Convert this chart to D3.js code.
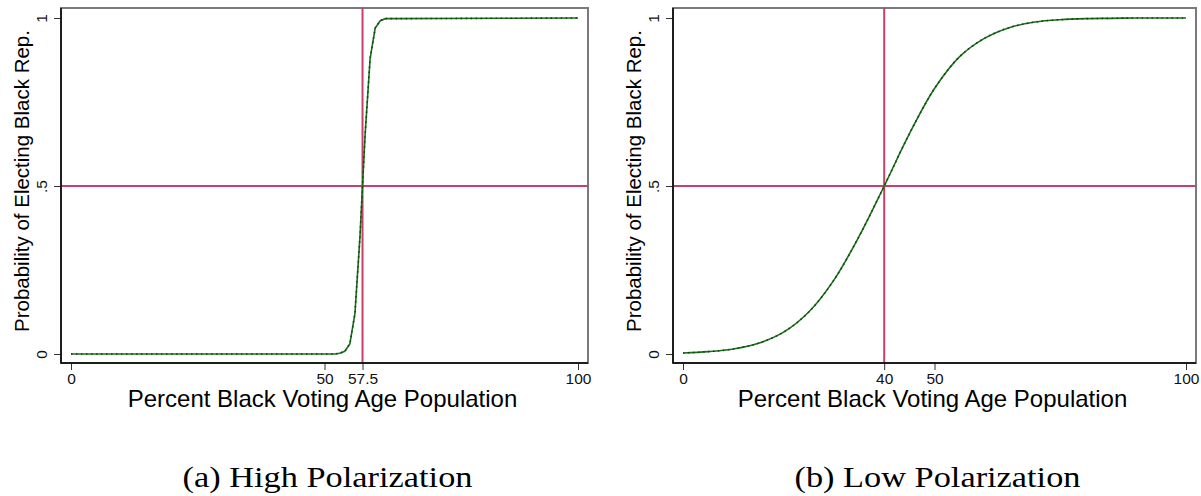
<!DOCTYPE html>
<html>
<head>
<meta charset="utf-8">
<script src="https://cdn.jsdelivr.net/npm/d3@7"></script>
<style>
  body { margin: 0; background: #fff; }
  svg { display: block; }
  .tick text { font-family: "Liberation Sans", Arial, sans-serif; }
</style>
</head>
<body>
<svg id="chart" width="1201" height="496"></svg>
<script>
// data
let highX = [0, 52, 53, 54, 55, 56, 57, 58, 59, 60, 61, 62, 100]
let highP = [0, 0, 0.002, 0.008, 0.03, 0.12, 0.35, 0.65, 0.88, 0.97, 0.992, 0.998, 1]

let lowX = [0, 5, 10, 15, 20, 25, 30, 35, 40, 45, 50, 55, 60, 65, 70, 75, 80, 85, 90, 95, 100]
let lowP = [0.003, 0.007, 0.015, 0.032, 0.065, 0.125, 0.22, 0.35, 0.5, 0.655, 0.79, 0.885, 0.94, 0.972, 0.988, 0.995, 0.998, 0.999, 1, 1, 1]

let highTicks = [0, 50, 57.5, 100]
let lowTicks = [0, 40, 50, 100]
let yTicks = [0, 0.5, 1]
let yTickLabels = ['0', '.5', '1']
let refLines = [57.5, 40]
let captions = ['(a) High Polarization', '(b) Low Polarization']
let xTitle = 'Percent Black Voting Age Population'
let yTitle = 'Probability of Electing Black Rep.'

let svg = d3.select('#chart')

let panels = [
    {xs: highX, ps: highP, ticks: highTicks, ref: refLines[0], caption: captions[0], capLen: 290, left: 61, right: 588, curve: d3.curveLinear},
    {xs: lowX, ps: lowP, ticks: lowTicks, ref: refLines[1], caption: captions[1], capLen: 286, left: 673, right: 1196, curve: d3.curveCatmullRom.alpha(0.5)}
]

let plotTop = 8
let plotBottom = 363
let red = '#c8406a'
let green = '#1c6e1c'

let drawPanel = (p) => {
    let g = svg.append('g')
    let pad = 10
    let x = d3.scaleLinear().domain([0, 100]).range([p.left + pad, p.right - pad])
    let y = d3.scaleLinear().domain([0, 1]).range([plotBottom - 9, plotTop + 10])

    // plot region outline
    g.append('rect')
     .attr('x', p.left).attr('y', plotTop)
     .attr('width', p.right - p.left).attr('height', plotBottom - plotTop)
     .attr('fill', 'none').attr('stroke', '#7a7a7a').attr('stroke-width', 2)

    // reference lines
    g.append('line')
     .attr('x1', p.left).attr('x2', p.right)
     .attr('y1', y(0.5)).attr('y2', y(0.5))
     .attr('stroke', red).attr('stroke-width', 2)
    g.append('line')
     .attr('x1', x(p.ref)).attr('x2', x(p.ref))
     .attr('y1', plotTop).attr('y2', plotBottom)
     .attr('stroke', red).attr('stroke-width', 2)

    // curve
    let pts = p.xs.map((d, i) => [d, p.ps[i]])
    let line = d3.line().x(d => x(d[0])).y(d => y(d[1])).curve(p.curve)
    g.append('path')
     .datum(pts)
     .attr('d', line)
     .attr('fill', 'none').attr('stroke', green).attr('stroke-width', 1.6)
    g.append('path')
     .datum(pts)
     .attr('d', line)
     .attr('fill', 'none').attr('stroke', '#0c4a0c').attr('stroke-width', 1.6)
     .attr('stroke-dasharray', '1.5,3.5')

    // axes
    let xAxis = d3.axisBottom(x)
                  .tickValues(p.ticks)
                  .tickFormat(d => String(d))
                  .tickSize(7).tickPadding(3)
    let ga = g.append('g').attr('transform', 'translate(0,' + plotBottom + ')').call(xAxis)
    ga.select('.domain').remove()
    ga.selectAll('.tick line').attr('stroke', '#333')
    ga.selectAll('.tick text').attr('font-size', 15.5).attr('fill', '#111')

    let yAxis = d3.axisLeft(y)
                  .tickValues(yTicks)
                  .tickFormat((d, i) => yTickLabels[i])
                  .tickSize(7).tickPadding(8)
    let gy = g.append('g').attr('transform', 'translate(' + p.left + ',0)').call(yAxis)
    gy.select('.domain').remove()
    gy.selectAll('.tick line').attr('stroke', '#333')
    gy.selectAll('.tick text')
      .attr('font-size', 15.5).attr('fill', '#111')
      .attr('x', null).attr('dy', null)
      .attr('text-anchor', 'middle')
      .attr('transform', 'translate(-14,0) rotate(-90)')

    // axis lines
    g.append('line')
     .attr('x1', p.left).attr('x2', p.left).attr('y1', plotTop).attr('y2', plotBottom + 0.5)
     .attr('stroke', '#000').attr('stroke-width', 1.5)
    g.append('line')
     .attr('x1', p.left).attr('x2', p.right).attr('y1', plotBottom).attr('y2', plotBottom)
     .attr('stroke', '#000').attr('stroke-width', 1.5)

    // titles
    let mid = (p.left + p.right) / 2
    g.append('text')
     .text(xTitle)
     .attr('x', mid - 2).attr('y', 407)
     .attr('text-anchor', 'middle')
     .attr('font-family', '"Liberation Sans", Arial, sans-serif')
     .attr('font-size', 24)
    g.append('text')
     .text(yTitle)
     .attr('transform', 'translate(' + (p.left - 32) + ',' + (y(0.5) - 5) + ') rotate(-90)')
     .attr('text-anchor', 'middle')
     .attr('font-family', '"Liberation Sans", Arial, sans-serif')
     .attr('font-size', 20.5)

    g.append('text')
     .text(p.caption)
     .attr('x', mid + 3).attr('y', 487)
     .attr('text-anchor', 'middle')
     .attr('font-family', '"Liberation Serif", "DejaVu Serif", serif')
     .attr('font-size', 29)
     .attr('textLength', p.capLen)
     .attr('lengthAdjust', 'spacingAndGlyphs')
}

panels.forEach(drawPanel)
</script>
</body>
</html>
